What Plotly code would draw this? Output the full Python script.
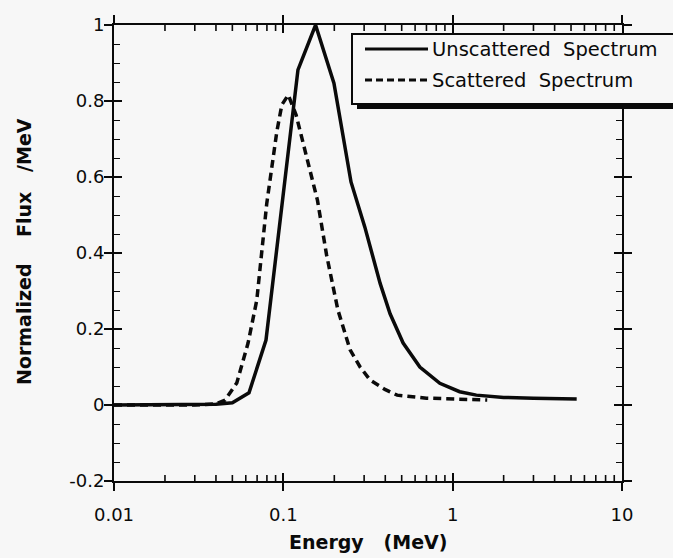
import plotly.graph_objects as go

# ---- data ----
unscat_E = [0.01, 0.02, 0.03, 0.04, 0.05, 0.0627, 0.079, 0.0995, 0.122, 0.155,
            0.199, 0.251, 0.303, 0.373, 0.427, 0.51, 0.64, 0.84, 1.10, 1.38,
            2.0, 3.0, 5.4]
unscat_F = [0.0, 0.0, 0.0, 0.002, 0.006, 0.032, 0.171, 0.539, 0.882, 1.0,
            0.847, 0.587, 0.468, 0.32, 0.24, 0.163, 0.10, 0.057, 0.035, 0.026,
            0.02, 0.018, 0.016]

scat_E = [0.01, 0.03, 0.04, 0.0453, 0.0531, 0.0619, 0.0697, 0.0798, 0.0915,
          0.098, 0.107, 0.119, 0.159, 0.18, 0.21, 0.248, 0.284, 0.325, 0.398,
          0.47, 0.70, 1.38, 1.6]
scat_F = [0.0, 0.0, 0.003, 0.013, 0.058, 0.163, 0.276, 0.53, 0.719,
          0.79, 0.816, 0.763, 0.539, 0.395, 0.25, 0.145, 0.10, 0.066, 0.041,
          0.026, 0.018, 0.013, 0.013]

x_tickvals = [0.01, 0.1, 1, 10]
x_ticktext = ["0.01", "0.1", "1", "10"]
x_minorvals = [m * d for d in (0.01, 0.1, 1) for m in range(2, 10)]
y_tickvals = [-0.2, 0, 0.2, 0.4, 0.6, 0.8, 1.0]
y_ticktext = ["-0.2", "0", "0.2", "0.4", "0.6", "0.8", "1"]
y_minorvals = [round(-0.2 + 0.05 * k, 2) for k in range(25) if k % 4]

series_names = ["Unscattered\u00a0\u00a0Spectrum", "Scattered\u00a0\u00a0Spectrum"]
x_title = "Energy\u00a0\u00a0\u00a0(MeV)"
y_title = "Normalized\u00a0\u00a0\u00a0\u00a0Flux\u00a0\u00a0\u00a0/MeV"

# ---- layout geometry ----
W, H = 673, 558
L, R, T, B = 114, 51, 25, 77
PW, PH = W - L - R, H - T - B
BG = "#f7f7f7"
INK = "#0a0a0a"
Y0, Y1 = -0.2, 1.0


def px(x):
    return (x - L) / PW


def py(y):
    return (H - B - y) / PH


fig = go.Figure()

# minor ticks of the log energy axis (bottom and top, pointing inward),
# drawn as short vertical segments through the axis scales
mlen = 6 / PH * (Y1 - Y0)
tx, ty = [], []
for v in x_minorvals:
    tx += [v, v, None, v, v, None]
    ty += [Y0, Y0 + mlen, None, Y1 - mlen, Y1, None]
fig.add_trace(go.Scatter(x=tx, y=ty, mode="lines", showlegend=False,
                         hoverinfo="skip", connectgaps=False,
                         line=dict(color=INK, width=1.6)))

fig.add_trace(go.Scatter(x=unscat_E, y=unscat_F, mode="lines",
                         line=dict(color=INK, width=3.5), showlegend=False,
                         name=series_names[0]))
fig.add_trace(go.Scatter(x=scat_E, y=scat_F, mode="lines",
                         line=dict(color=INK, width=3.5, dash="8px,5px"),
                         showlegend=False, name=series_names[1]))
# empty traces to instantiate the overlay axes (inner tick halves, minor ticks)
fig.add_trace(go.Scatter(x=[], y=[], xaxis="x2", yaxis="y2", showlegend=False))
fig.add_trace(go.Scatter(x=[], y=[], xaxis="x", yaxis="y3", showlegend=False))

tickfont = dict(family="DejaVu Sans", size=18, color=INK)


def overlay_x(vals, ln, w):
    return dict(type="log", range=[-2, 1], overlaying="x", anchor="y",
                tickmode="array", tickvals=vals, ticks="inside", ticklen=ln,
                tickwidth=w, tickcolor=INK, showticklabels=False, showline=False,
                mirror="ticks", showgrid=False, zeroline=False)


def overlay_y(vals, ln, w):
    return dict(range=[Y0, Y1], overlaying="y", anchor="x",
                tickmode="array", tickvals=vals, ticks="inside", ticklen=ln,
                tickwidth=w, tickcolor=INK, showticklabels=False, showline=False,
                mirror="ticks", showgrid=False, zeroline=False)


fig.update_layout(
    width=W, height=H,
    margin=dict(l=L, r=R, t=T, b=B),
    paper_bgcolor=BG, plot_bgcolor=BG,
    showlegend=False,
    xaxis=dict(type="log", range=[-2, 1], tickmode="array", tickvals=x_tickvals,
               ticktext=x_ticktext,
               ticks="outside", ticklen=8, tickwidth=1.5, tickcolor=INK,
               showline=True, linewidth=2, linecolor=INK, mirror="ticks",
               showgrid=False, zeroline=False, tickfont=tickfont,
               ticklabelstandoff=8),
    yaxis=dict(range=[Y0, Y1], tickmode="array", tickvals=y_tickvals,
               ticktext=y_ticktext,
               ticks="outside", ticklen=8, tickwidth=1.5, tickcolor=INK,
               showline=True, linewidth=2, linecolor=INK, mirror="ticks",
               showgrid=False, zeroline=False, tickfont=tickfont,
               ticklabelstandoff=-4),
    xaxis2=overlay_x(x_tickvals, 8, 1.5),
    yaxis2=overlay_y(y_tickvals, 8, 1.5),
    yaxis3=overlay_y(y_minorvals, 6, 1.3),
)

# axis titles
titlefont = dict(family="DejaVu Sans", size=19, color=INK)
fig.add_annotation(text="<b>" + x_title + "</b>", xref="paper", yref="paper",
                   x=px(368), y=py(542), xanchor="center", yanchor="middle",
                   showarrow=False, font=titlefont)
fig.add_annotation(text="<b>" + y_title + "</b>",
                   xref="paper", yref="paper", x=px(24), y=py(252),
                   xanchor="center", yanchor="middle", textangle=-90,
                   showarrow=False, font=titlefont)

# legend box with heavy drop shadow, extending past the right edge
fig.add_shape(type="rect", xref="paper", yref="paper",
              x0=px(352), x1=px(730), y0=py(104), y1=py(34),
              fillcolor=BG, line=dict(color=INK, width=2), layer="above")
fig.add_shape(type="rect", xref="paper", yref="paper",
              x0=px(357), x1=px(730), y0=py(109), y1=py(104),
              fillcolor=INK, line=dict(width=0), layer="above")
for i, (yy, dash) in enumerate([(49, "solid"), (80, "7px,4px")]):
    fig.add_shape(type="line", xref="paper", yref="paper",
                  x0=px(365), x1=px(428), y0=py(yy), y1=py(yy),
                  line=dict(color=INK, width=3, dash=dash), layer="above")
    fig.add_annotation(text=series_names[i], xref="paper", yref="paper",
                       x=px(430), y=py(yy), xanchor="left", yanchor="middle",
                       showarrow=False,
                       font=dict(family="DejaVu Sans", size=19.5, color=INK))

fig.write_html("out.html", config={"displayModeBar": False})

# remove the default page margin so the figure sits at the window origin
with open("out.html", "r", encoding="utf-8") as f:
    html = f.read()
html = html.replace("<body>", '<body style="margin:0;overflow:hidden">', 1)
with open("out.html", "w", encoding="utf-8") as f:
    f.write(html)
